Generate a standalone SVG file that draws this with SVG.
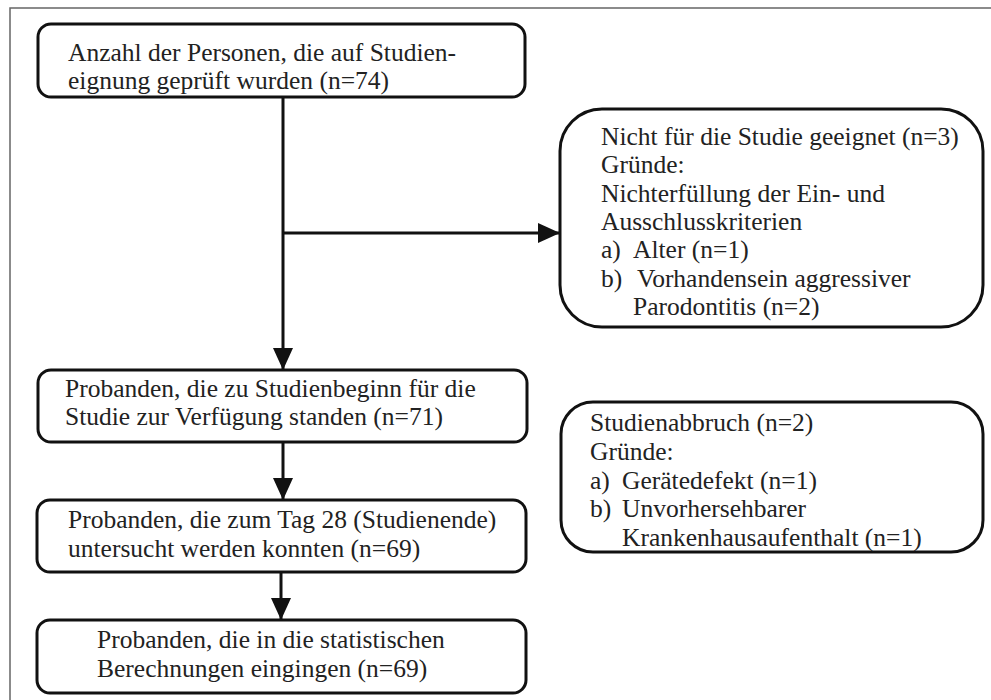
<svg xmlns="http://www.w3.org/2000/svg" width="991" height="700" viewBox="0 0 991 700" font-family="Liberation Serif, Times New Roman, serif" font-size="25.5">
<defs>
<marker id="ah" markerUnits="userSpaceOnUse" markerWidth="24" markerHeight="22" refX="22" refY="10" orient="auto">
<path d="M0,0 L22,10 L0,20 Z" fill="#111"/>
</marker>
<style>
.box{fill:#fff;stroke:#111;stroke-width:3}
text{font-family:"Liberation Serif","Times New Roman",serif;font-size:25.5px;fill:#222}
.c{fill:none;stroke:#111;stroke-width:3}
</style>
</defs>
<rect width="991" height="700" fill="#fff"/>
<path d="M10,700 L10,8 L991,8" fill="none" stroke="#666" stroke-width="1.5"/>
<g id="connectors">
<path class="c" d="M283,97 L283,370" marker-end="url(#ah)"/>
<path class="c" d="M283,233 L560,233" marker-end="url(#ah)"/>
<path class="c" d="M283,442 L283,500" marker-end="url(#ah)"/>
<path class="c" d="M281,572 L281,620" marker-end="url(#ah)"/>
</g>
<g id="n1">
<rect class="box" x="38" y="24" width="487" height="73" rx="13"/>
<text x="68" y="61">Anzahl der Personen, die auf Studien-</text>
<text x="68" y="89">eignung geprüft wurden (n=74)</text>
</g>
<g id="n2">
<rect class="box" x="560" y="109" width="423" height="218" rx="42"/>
<text x="601" y="145">Nicht für die Studie geeignet (n=3)</text>
<text x="601" y="173">Gründe:</text>
<text x="601" y="202">Nichterfüllung der Ein- und</text>
<text x="601" y="230">Ausschlusskriterien</text>
<text x="601" y="258">a)</text><text x="633" y="258">Alter (n=1)</text>
<text x="601" y="287">b)</text><text x="637" y="287">Vorhandensein aggressiver</text>
<text x="633" y="315">Parodontitis (n=2)</text>
</g>
<g id="n3">
<rect class="box" x="38" y="370" width="489" height="72" rx="13"/>
<text x="65" y="397">Probanden, die zu Studienbeginn für die</text>
<text x="65" y="425">Studie zur Verfügung standen (n=71)</text>
</g>
<g id="n4">
<rect class="box" x="561" y="402" width="422" height="150" rx="32"/>
<text x="590" y="431">Studienabbruch (n=2)</text>
<text x="590" y="460">Gründe:</text>
<text x="590" y="489">a)</text><text x="622" y="489">Gerätedefekt (n=1)</text>
<text x="590" y="517">b)</text><text x="622" y="517">Unvorhersehbarer</text>
<text x="622" y="546">Krankenhausaufenthalt (n=1)</text>
</g>
<g id="n5">
<rect class="box" x="37" y="500" width="489" height="72" rx="13"/>
<text x="68" y="528">Probanden, die zum Tag 28 (Studienende)</text>
<text x="68" y="557">untersucht werden konnten (n=69)</text>
</g>
<g id="n6">
<rect class="box" x="37" y="620" width="489" height="73" rx="13"/>
<text x="97" y="648">Probanden, die in die statistischen</text>
<text x="97" y="677">Berechnungen eingingen (n=69)</text>
</g>
</svg>
